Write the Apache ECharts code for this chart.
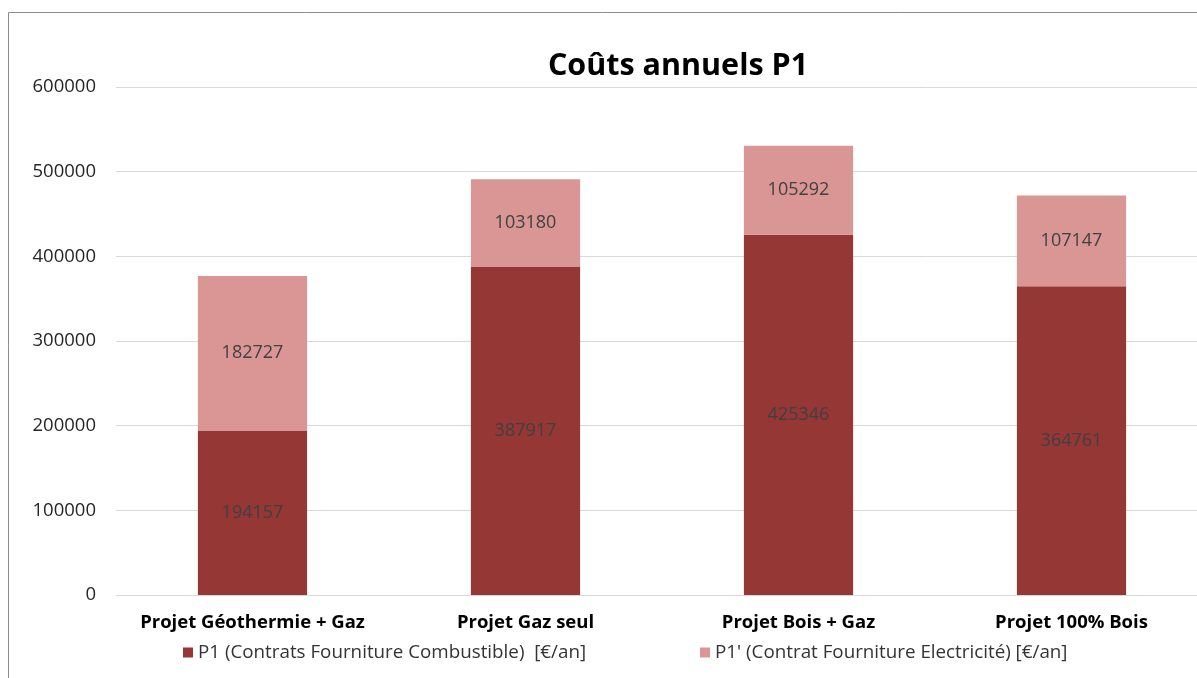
<!DOCTYPE html>
<html><head><meta charset="utf-8">
<script src="https://cdn.jsdelivr.net/npm/echarts@6/dist/echarts.min.js"></script>
<style>html,body{margin:0;padding:0;background:#fff}#c{width:1197px;height:678px}</style>
</head><body><div id="c"></div>
<script>
const categories = ['Projet Géothermie + Gaz','Projet Gaz seul','Projet Bois + Gaz','Projet 100% Bois'];
const p1Values = [194157, 387917, 425346, 364761];
const p1PrimeValues = [182727, 103180, 105292, 107147];
const seriesNames = ['P1 (Contrats Fourniture Combustible)  [€/an]', "P1' (Contrat Fourniture Electricité) [€/an]"];
const titleText = 'Coûts annuels P1';

const FONT = '"Open Sans", sans-serif';
const chart = echarts.init(document.getElementById('c'));
const lbl = {show:true, position:'inside', color:'#404040', fontSize:18, fontFamily:FONT};
chart.setOption({
  animation:false,
  backgroundColor:'#fff',
  title:{text:titleText, left:673, top:46, textAlign:'center',
    textStyle:{fontSize:30.5, fontWeight:'bold', color:'#000', fontFamily:FONT}},
  graphic:[
    {type:'line', shape:{x1:8.5,y1:12.5,x2:1197,y2:12.5}, style:{stroke:'#8c8c8c', lineWidth:1}},
    {type:'line', shape:{x1:8.5,y1:12.5,x2:8.5,y2:678}, style:{stroke:'#8c8c8c', lineWidth:1}}
  ],
  legend:{bottom:11, left:178, itemWidth:10, itemHeight:10, itemGap:114, icon:'rect',
    textStyle:{fontSize:18.8, color:'#333', fontFamily:FONT}},
  grid:{left:116, top:87, width:1092, height:508, outerBoundsMode:'none'},
  xAxis:{type:'category', data:categories,
    axisLine:{lineStyle:{color:'#d9d9d9'}}, axisTick:{show:false},
    axisLabel:{interval:0, hideOverlap:false, fontSize:18.5, fontWeight:'bold', color:'#000', margin:18, fontFamily:FONT}},
  yAxis:{type:'value', min:0, max:600000, interval:100000,
    axisLine:{show:false}, axisTick:{show:false},
    splitLine:{lineStyle:{color:'#d9d9d9'}},
    axisLabel:{fontSize:18.5, color:'#262626', margin:20, fontFamily:FONT, formatter:v=>String(v)}},
  series:[
    {name:seriesNames[0], type:'bar', stack:'t', data:p1Values, barWidth:'40%',
      itemStyle:{color:'#953735'}, label:lbl},
    {name:seriesNames[1], type:'bar', stack:'t', data:p1PrimeValues, barWidth:'40%',
      itemStyle:{color:'#d99694'}, label:lbl}
  ]
});
</script></body></html>
